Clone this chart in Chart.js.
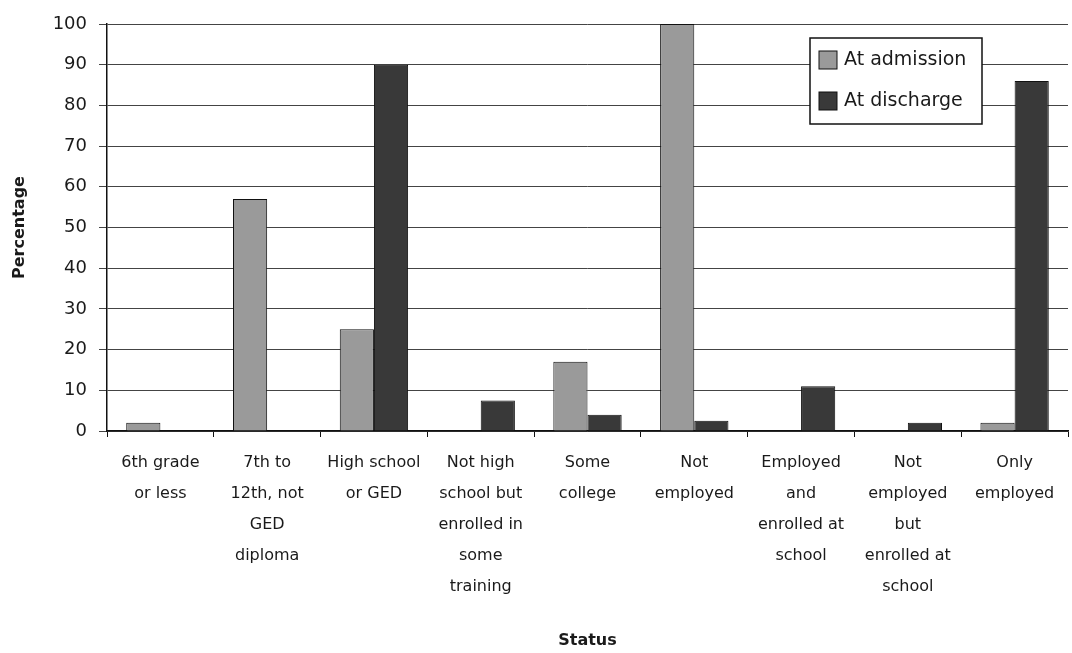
<!DOCTYPE html>
<html>
<head>
<meta charset="utf-8">
<script src="https://cdn.jsdelivr.net/npm/chart.js@4"></script>
<style>
  html, body { margin: 0; padding: 0; background: #fff; }
  #wrap { width: 1072px; height: 653px; }
</style>
</head>
<body>
<div id="wrap"><canvas id="myChart" width="1072" height="653"></canvas></div>
<script>
// categorias (multi-linea como en la figura)
const categories = [
    ['6th grade', 'or less'],
    ['7th to', '12th, not', 'GED', 'diploma'],
    ['High school', 'or GED'],
    ['Not high', 'school but', 'enrolled in', 'some', 'training'],
    ['Some', 'college'],
    ['Not', 'employed'],
    ['Employed', 'and', 'enrolled at', 'school'],
    ['Not', 'employed', 'but', 'enrolled at', 'school'],
    ['Only', 'employed']
];

const seriesNames = ['At admission', 'At discharge'];
const atAdmission = [2, 57, 25, 0, 17, 100, 0, 0, 2];
const atDischarge = [0, 0, 90, 7.5, 4, 2.5, 11, 2, 86];
const yTicks = [0, 10, 20, 30, 40, 50, 60, 70, 80, 90, 100];

const font = 'DejaVu Sans';

// leyenda dibujada dentro del area del grafico
const insideLegend = {
    id: 'insideLegend',
    afterDraw(chart) {
        const ctx = chart.ctx;
        const x = 810, y = 38, w = 172, h = 86;
        ctx.save();
        ctx.fillStyle = '#fff';
        ctx.fillRect(x, y, w, h);
        ctx.strokeStyle = '#111';
        ctx.lineWidth = 1.5;
        ctx.strokeRect(x, y, w, h);
        ctx.font = '19px "' + font + '"';
        ctx.textBaseline = 'middle';
        chart.data.datasets.forEach((ds, i) => {
            const cy = y + 22 + i * 41;
            ctx.fillStyle = ds.backgroundColor;
            ctx.fillRect(x + 9, cy - 9, 18, 18);
            ctx.strokeStyle = '#111';
            ctx.lineWidth = 1;
            ctx.strokeRect(x + 9, cy - 9, 18, 18);
            ctx.fillStyle = '#1a1a1a';
            ctx.fillText(ds.label, x + 34, cy);
        });
        ctx.restore();
    }
};

const ctx = document.getElementById('myChart').getContext('2d');
new Chart(ctx, {
    type: 'bar',
    data: {
        labels: categories,
        datasets: [{
            label: seriesNames[0],
            data: atAdmission,
            backgroundColor: '#9a9a9a',
            borderColor: '#111',
            borderWidth: 1
        }, {
            label: seriesNames[1],
            data: atDischarge,
            backgroundColor: '#393939',
            borderColor: '#111',
            borderWidth: 1
        }]
    },
    options: {
        responsive: false,
        animation: false,
        layout: { padding: { top: 24, right: 4, left: 0, bottom: 0 } },
        datasets: {
            bar: { categoryPercentage: 0.64, barPercentage: 1.0 }
        },
        plugins: {
            legend: { display: false },
            tooltip: { enabled: false }
        },
        scales: {
            x: {
                grid: { drawOnChartArea: false, tickLength: 6, color: '#111' },
                border: { color: '#111', width: 1.5 },
                ticks: {
                    color: '#1a1a1a',
                    font: { family: font, size: 16, lineHeight: 1.94 },
                    padding: 10,
                    maxRotation: 0,
                    autoSkip: false
                },
                title: {
                    display: true,
                    text: 'Status',
                    color: '#1a1a1a',
                    font: { family: font, size: 16, weight: 'bold' },
                    padding: { top: 0, bottom: 3 }
                },
                afterFit(scale) { scale.height = 222; }
            },
            y: {
                min: 0,
                max: 100,
                afterBuildTicks(scale) { scale.ticks = yTicks.map(v => ({ value: v })); },
                grid: { color: '#444', lineWidth: 1, tickLength: 8 },
                border: { color: '#111', width: 1.5 },
                ticks: {
                    color: '#1a1a1a',
                    font: { family: font, size: 18 },
                    padding: 12
                },
                title: {
                    display: true,
                    text: 'Percentage',
                    color: '#1a1a1a',
                    font: { family: font, size: 16, weight: 'bold' },
                    padding: { top: 10, bottom: 0 }
                },
                afterFit(scale) { scale.width = 107; }
            }
        }
    },
    plugins: [insideLegend]
});
</script>
</body>
</html>
